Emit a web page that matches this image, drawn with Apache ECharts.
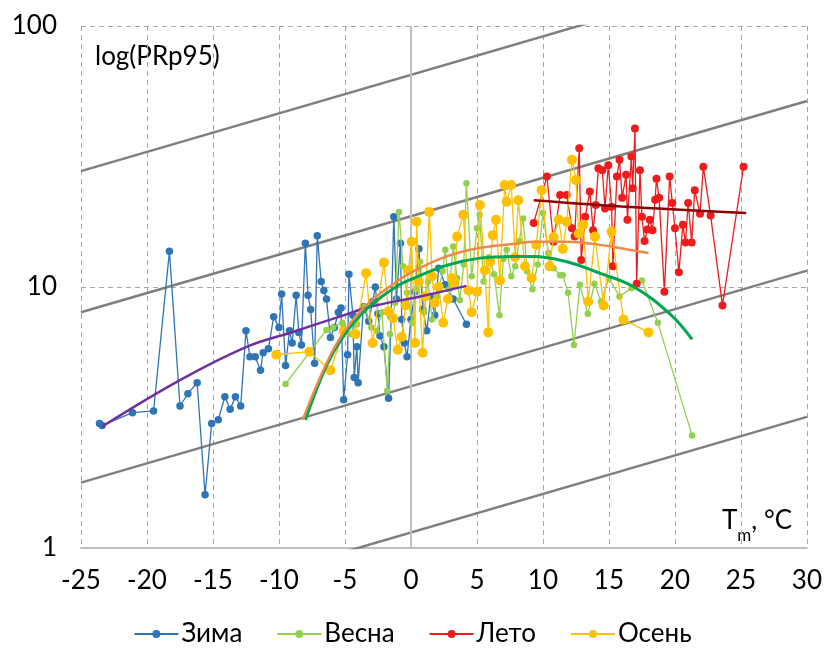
<!DOCTYPE html>
<html>
<head>
<meta charset="utf-8">
<script src="https://cdn.jsdelivr.net/npm/echarts@6/dist/echarts.min.js"></script>
<style>
  html, body { margin: 0; padding: 0; background: #fff; }
  #chart { width: 825px; height: 652px; }
</style>
</head>
<body>
<div id="chart"></div>
<script>
// Seasonal extreme precipitation (95th percentile) against mean temperature, log scale
const xTicks = [-25, 30, 5];        // min, max, step
const yTicks = [1, 100];            // log axis range

const seriesNames = ['Зима', 'Весна', 'Лето', 'Осень'];

// [T, PRp95]
const winter = [
  [-23.6,3.0],[-23.4,2.95],[-21.1,3.3],[-19.5,3.35],[-18.3,13.7],[-17.5,3.5],[-16.9,3.9],[-16.2,4.3],
  [-15.6,1.6],[-15.1,3.0],[-14.6,3.1],[-14.1,3.8],[-13.7,3.4],[-13.3,3.8],[-12.9,3.5],[-12.5,6.8],
  [-12.2,5.4],[-11.8,5.4],[-11.4,4.8],[-11.2,5.6],[-10.8,5.8],[-10.4,7.7],[-10.0,7.0],[-9.8,9.4],
  [-9.5,5.0],[-9.2,6.8],[-9.0,6.1],[-8.7,9.3],[-8.5,6.7],[-8.3,6.0],[-8.0,14.7],[-7.8,9.3],
  [-7.6,8.2],[-7.3,5.1],[-7.1,15.7],[-6.8,10.5],[-6.6,9.7],[-6.4,9.0],[-6.1,6.4],[-5.8,7.0],
  [-5.5,8.0],[-5.3,8.3],[-5.1,3.7],[-4.8,5.5],[-4.7,11.2],[-4.4,7.8],[-4.3,4.5],[-4.1,5.9],
  [-4.0,4.3],[-3.6,8.4],[-3.2,7.4],[-2.9,8.8],[-2.7,10.0],[-2.5,7.9],[-2.35,6.5],[-2.05,5.9],
  [-1.7,3.75],[-1.5,7.7],[-1.3,18.6],[-1.1,9.0],[-0.8,14.7],[-0.7,7.5],[-0.5,6.1],[-0.3,5.4],
  [0.0,7.5],[0.3,9.6],[0.6,14.0],[0.9,8.2],[1.2,6.8],[1.5,9.2],[1.8,7.8],[2.1,11.8],
  [2.6,10.2],[3.2,9.0],[4.2,7.2]
];

const spring = [
  [-9.5,4.25],[-6.4,6.85],[-5.9,7.0],[-5.2,7.3],[-4.6,6.6],[-4.1,7.2],[-3.5,8.4],[-3.0,7.0],
  [-2.6,6.8],[-2.2,8.0],[-1.8,4.0],[-1.6,6.6],[-1.2,8.7],[-0.9,19.4],[-0.6,12.0],[-0.3,9.5],
  [0.1,7.3],[0.4,9.8],[0.7,12.5],[1.0,8.0],[1.3,10.5],[1.6,7.5],[2.0,9.2],[2.4,11.5],
  [2.6,13.9],[2.9,9.8],[3.2,14.3],[3.5,10.8],[3.7,8.9],[4.0,12.2],[4.2,25.0],[4.6,11.0],
  [5.0,16.8],[5.2,18.9],[5.5,10.5],[5.9,13.0],[6.3,11.2],[6.7,7.8],[7.0,12.8],[7.25,13.9],
  [7.6,11.0],[7.9,12.0],[8.2,15.0],[8.5,18.3],[8.8,11.5],[9.2,9.8],[9.6,12.2],[10.0,19.2],
  [10.4,13.5],[10.8,11.8],[11.3,11.1],[11.5,11.1],[11.9,9.5],[12.35,6.0],[12.8,10.2],[13.4,7.9],
  [13.9,10.3],[14.4,8.8],[15.0,10.8],[15.8,9.2],[16.7,9.9],[17.5,10.6],[18.7,7.3],[21.3,2.7]
];

const summer = [
  [9.3,17.6],[10.3,26.5],[10.8,14.9],[11.3,22.5],[11.8,22.5],[12.2,16.8],[12.4,15.6],[12.75,34.0],
  [12.9,12.7],[13.2,18.6],[13.55,23.2],[13.8,16.5],[14.0,20.6],[14.2,28.5],[14.5,28.0],[14.7,20.0],
  [14.95,29.3],[15.2,20.3],[15.3,12.0],[15.6,26.5],[15.8,30.7],[16.0,22.0],[16.3,26.9],[16.4,18.1],
  [16.7,31.6],[16.8,23.9],[16.97,40.5],[17.1,10.3],[17.35,28.0],[17.5,18.6],[17.7,15.0],[17.9,16.6],
  [18.1,18.1],[18.3,16.5],[18.5,21.6],[18.6,26.0],[18.8,22.0],[19.2,9.6],[19.6,26.5],[19.8,21.0],
  [20.0,16.8],[20.3,11.4],[20.6,17.3],[20.8,14.8],[21.0,21.0],[21.27,14.8],[21.5,23.5],[21.9,19.1],
  [22.15,28.9],[22.7,18.8],[23.6,8.5],[25.2,28.9]
];

const autumn = [
  [-10.2,5.5],[-7.7,5.65],[-6.1,4.8],[-5.1,6.8],[-4.2,6.6],[-3.4,11.3],[-2.9,6.1],[-2.05,12.4],
  [-1.7,8.05],[-1.35,7.6],[-1.0,5.75],[-0.7,6.45],[-0.4,8.5],[-0.2,11.6],[0.05,14.9],[0.3,6.1],
  [0.43,17.8],[0.6,10.5],[0.88,5.6],[1.1,9.2],[1.39,19.4],[1.6,11.0],[1.8,8.7],[2.1,10.0],
  [2.45,7.3],[2.8,9.0],[3.1,10.8],[3.3,10.4],[3.5,15.6],[3.97,18.9],[4.35,9.7],[4.6,8.0],
  [5.0,9.6],[5.23,20.6],[5.6,11.6],[5.86,6.7],[6.0,12.5],[6.2,15.8],[6.44,18.1],[6.74,10.6],
  [7.1,24.6],[7.25,21.2],[7.6,24.6],[7.9,13.0],[8.13,21.5],[8.64,12.0],[9.14,10.8],[9.5,14.5],
  [9.9,23.5],[10.5,12.0],[10.8,15.5],[11.2,18.1],[11.5,14.0],[11.8,17.8],[12.2,30.7],[12.5,25.7],
  [12.7,16.0],[13.05,17.3],[13.43,8.8],[13.94,15.6],[14.6,8.5],[15.2,16.3],[16.1,7.5],[18.0,6.7]
];

// Fitted trend curves
const winterFit = [[-23.4,2.92],[-17.5,4.4],[-12.45,5.9],[-8.9,6.74],[-5.4,7.7],[-3.1,8.4],[0.7,9.2],[4.2,10.1]];
const springFit = [[-8.0,3.1],[-6.4,5.0],[-5.1,6.5],[-3.4,8.2],[-1.3,9.9],[0.2,10.8],[2.7,12.1],[5.2,12.9],
                   [7.75,13.1],[9.3,13.1],[11.8,12.5],[14.3,11.3],[16.9,10.0],[19.6,7.9],[21.3,6.3]];
const summerFit = [[9.3,21.5],[17.0,20.2],[25.4,19.2]];
const autumnFit = [[-8.2,3.1],[-6.4,5.1],[-5.1,6.7],[-3.4,8.5],[-1.3,10.3],[0.2,11.5],[2.7,13.1],[5.2,14.1],
                   [7.75,14.6],[9.3,14.9],[11.8,14.9],[14.3,14.5],[16.5,13.9],[18.0,13.5]];

// Reference scaling lines (exponential growth, straight on log axis)
const scalingLines = [
  [[-25,27.8],[30,180]],
  [[-25,8.0],[30,51.6]],
  [[-25,1.78],[30,11.55]],
  [[-25,0.49],[30,3.18]]
];
const zeroLine = [[0,1],[0,100]];

const colors = ['#2e75b6', '#92d050', '#ee1c1c', '#ffc000'];
const fitColors = ['#7030a0', '#00a651', '#8b0000', '#ed8a4a'];
const FONT = 'Lato, "Noto Sans", sans-serif';

const chart = echarts.init(document.getElementById('chart'), null, { renderer: 'canvas' });

const series = [];
scalingLines.forEach((pts) => {
  series.push({
    type: 'line', data: pts, symbol: 'none', silent: true, clip: true,
    lineStyle: { color: '#7f7f7f', width: 2.5 }, z: 1
  });
});
series.push({
  type: 'line', data: zeroLine, symbol: 'none', silent: true,
  lineStyle: { color: '#bfbfbf', width: 2 }, z: 1
});

const dataSets = [winter, spring, summer, autumn];
const symSizes = [7.5, 6.5, 8, 10];
dataSets.forEach((d, i) => {
  series.push({
    name: seriesNames[i], type: 'line', data: d, symbol: 'circle', symbolSize: symSizes[i],
    itemStyle: { color: colors[i] },
    lineStyle: { color: colors[i], width: 1.3 },
    z: 2 + i
  });
});
[winterFit, springFit, summerFit, autumnFit].forEach((d, i) => {
  series.push({
    type: 'line', data: d, symbol: 'none', smooth: 0.4, silent: true,
    lineStyle: { color: fitColors[i], width: i === 1 ? 3 : 2.5 }, z: 10
  });
});

chart.setOption({
  animation: false,
  backgroundColor: '#ffffff',
  grid: { left: 81, right: 18, top: 26, bottom: 104, containLabel: false },
  xAxis: {
    type: 'value', min: xTicks[0], max: xTicks[1], interval: xTicks[2],
    axisLine: { show: true, onZero: false, lineStyle: { color: '#bfbfbf', width: 2 } },
    axisTick: { show: false },
    axisLabel: { color: '#000', fontSize: 26, fontFamily: FONT, margin: 20 },
    splitLine: { show: true, lineStyle: { color: '#a6a6a6', type: [5, 4], width: 1 } }
  },
  yAxis: {
    type: 'log', logBase: 10, min: yTicks[0], max: yTicks[1],
    axisLine: { show: false },
    axisTick: { show: false },
    axisLabel: { color: '#000', fontSize: 26, fontFamily: FONT, margin: 24 },
    splitLine: { show: true, lineStyle: { color: '#a6a6a6', type: [5, 4], width: 1 } },
    minorSplitLine: { show: false }
  },
  legend: {
    data: seriesNames, left: 'center', top: 616, itemWidth: 44, itemHeight: 10, itemGap: 34,
    textStyle: { color: '#000', fontSize: 26, fontFamily: FONT, padding: [0, 0, 0, -2] }
  },
  graphic: [
    { type: 'text', left: 95, top: 44, style: { text: 'log(PRp95)', fill: '#000', font: '26px ' + FONT } },
    { type: 'text', left: 722, top: 508, style: {
        text: '{t|T}{s|m}{t|, °C}', fill: '#000',
        rich: { t: { fontSize: 26, fontFamily: FONT, fill: '#000', lineHeight: 36, verticalAlign: 'top' },
                s: { fontSize: 17, fontFamily: FONT, fill: '#000', lineHeight: 36, verticalAlign: 'bottom' } }
    } }
  ],
  series: series
});
</script>
</body>
</html>
